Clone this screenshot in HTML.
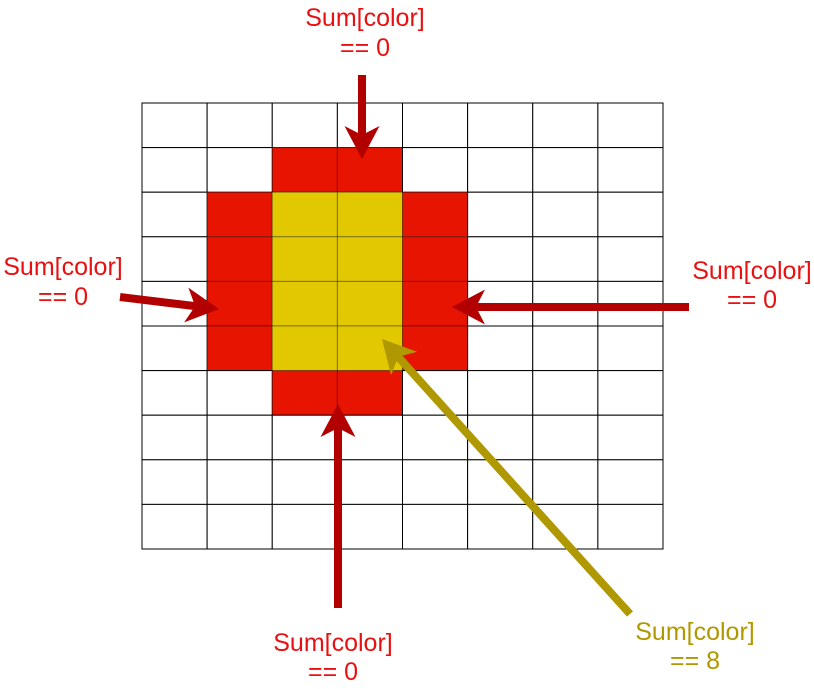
<!DOCTYPE html>
<html><head><meta charset="utf-8"><style>
html,body{margin:0;padding:0;background:#fff;}
svg{display:block;}
text{font-family:"Liberation Sans",sans-serif;font-size:25px;text-anchor:middle;}
</style></head><body>
<svg id="s" width="814" height="689" viewBox="0 0 814 689">
<g id="cells"></g>
<g id="arrows"></g>
<g fill="#e81010"><text x="365" y="26">Sum[color]</text><text x="365" y="56">== 0</text></g>
<g fill="#e81010"><text x="63" y="275">Sum[color]</text><text x="63" y="305">== 0</text></g>
<g fill="#e81010"><text x="752" y="279">Sum[color]</text><text x="752" y="308">== 0</text></g>
<g fill="#e81010"><text x="333" y="651">Sum[color]</text><text x="333" y="680">== 0</text></g>
<g fill="#b09800"><text x="695" y="640">Sum[color]</text><text x="695" y="669">== 8</text></g>
</svg>
<script>
const colorMatrix = [
"........",
"..RR....",
".RYYR...",
".RYYR...",
".RYYR...",
".RYYR...",
"..RR....",
"........",
"........",
"........"];
const colX0=142, colX1=663, rowY0=103, rowY1=549;
const nCols=8, nRows=10;
const cw=(colX1-colX0)/nCols, ch=(rowY1-rowY0)/nRows;
const fills={'.':'#ffffff','R':'#e61400','Y':'#e2c800'};
const g=document.getElementById('cells');
const NS='http://www.w3.org/2000/svg';
colorMatrix.forEach((row,r)=>{[...row].forEach((c,k)=>{
  const el=document.createElementNS(NS,'rect');
  el.setAttribute('x',colX0+k*cw);el.setAttribute('y',rowY0+r*ch);
  el.setAttribute('width',cw);el.setAttribute('height',ch);
  el.setAttribute('fill',fills[c]);
  el.setAttribute('stroke',c==='.'?'#000':'rgba(0,0,0,0.35)');
  el.setAttribute('stroke-width','1');
  
  
  g.appendChild(el);
});});
const ag=document.getElementById('arrows');
function arrow(x1,y1,x2,y2,col,name){
  const dx=x2-x1, dy=y2-y1, L=Math.hypot(dx,dy), ux=dx/L, uy=dy/L, px=-uy, py=ux;
  const hl=33, hw=17.5, notch=9;
  const bx=x2-ux*hl, by=y2-uy*hl, nx=x2-ux*(hl-notch), ny=y2-uy*(hl-notch);
  const ln=document.createElementNS(NS,'line');
  ln.setAttribute('x1',x1);ln.setAttribute('y1',y1);ln.setAttribute('x2',nx+ux*2);ln.setAttribute('y2',ny+uy*2);
  ln.setAttribute('stroke',col);ln.setAttribute('stroke-width','8');
  
  
  ag.appendChild(ln);
  const p=document.createElementNS(NS,'polygon');
  p.setAttribute('points',[x2,y2,bx+px*hw,by+py*hw,nx,ny,bx-px*hw,by-py*hw].join(' '));
  p.setAttribute('fill',col);
  
  
  ag.appendChild(p);
}
arrow(362,75,362,159,'#b20000','top-arrow');
arrow(120,297,219,309,'#b20000','left-arrow');
arrow(689,307,452,307,'#b20000','right-arrow');
arrow(338,608,338,404,'#b20000','bottom-arrow');
arrow(630,614,382,339,'#b09800','center-arrow');
</script>
</body></html>
